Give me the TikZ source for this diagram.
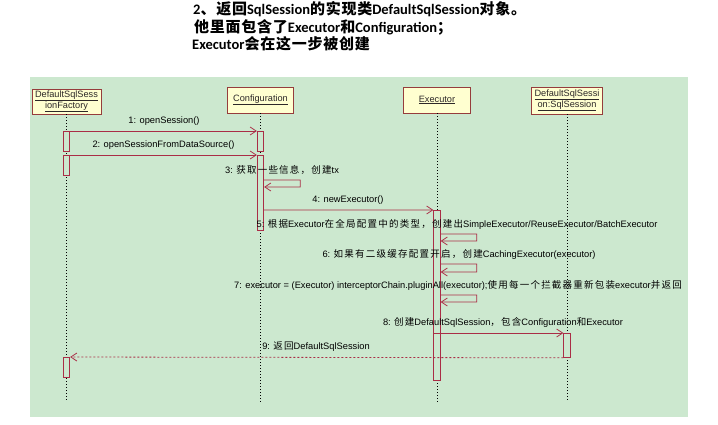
\documentclass[tikz,border=0pt]{standalone}
\usepackage{fontspec}
\setmainfont{Liberation Sans}
\newfontfamily\zhfont[LetterSpace=5]{Noto Sans CJK SC}
\newfontfamily\zhlbl[LetterSpace=13]{Noto Sans CJK SC}
\newfontfamily\titlelatin{Carlito}
\usetikzlibrary{arrows.meta,calc}
\newcommand\zh[1]{{\zhfont\fontsize{15bp}{17bp}\selectfont #1}}
\newcommand\zl[1]{{\zhlbl\fontsize{9.5bp}{11bp}\selectfont #1}}
\definecolor{bggreen}{RGB}{204,232,207}
\definecolor{boxfill}{RGB}{255,255,208}
\definecolor{boxdraw}{RGB}{150,60,60}
\definecolor{msgred}{RGB}{170,45,70}
\definecolor{boxtext}{RGB}{45,40,40}
\tikzset{
  titletext/.style={anchor=base west, inner sep=0pt, font=\titlelatin\bfseries\fontsize{14.5bp}{17bp}\selectfont},
  objbox/.style={draw=boxdraw, fill=boxfill, line width=0.8bp, inner sep=0pt, align=center, text=boxtext, font=\fontsize{9.2bp}{11bp}\selectfont},
  lifeline/.style={draw=black, line width=0.7bp, dash pattern=on 1bp off 2bp},
  bar/.style={draw=msgred, fill=bggreen, line width=0.8bp, minimum width=6.5bp, inner sep=0pt, anchor=north},
  msg/.style={draw=msgred, line width=0.8bp, -{Straight Barb[length=6bp,width=8bp]}},
  retmsg/.style={msg, dash pattern=on 2bp off 2bp},
  lbl/.style={inner sep=0pt, font=\fontsize{9.3bp}{11bp}\selectfont, text=black}
}
\begin{document}
\begin{tikzpicture}[x=1bp,y=-1bp]
\useasboundingbox (0,0) rectangle (718,424);
\fill[bggreen] (30,77) rectangle (688,417);
% title
\node[titletext] (t1) at (193,14) {2\zh{、返回}SqlSession\zh{的实现类}DefaultSqlSession\zh{对象。}};
\node[titletext] (t2) at (194,32) {\zh{他里面包含了}Executor\zh{和}Configuration\zh{；}};
\node[titletext] (t3) at (192,49) {Executor\zh{会在这一步被创建}};
% objects
\node[objbox, minimum width=69bp, minimum height=25bp] (fac) at (66.5,101.5) {\underline{DefaultSqlSess}\\\underline{ionFactory}};
\node[objbox, minimum width=66bp, minimum height=26bp] (cfg) at (260.5,100) {\underline{Configuration}};
\node[objbox, minimum width=67bp, minimum height=26bp] (exe) at (437,100) {\underline{Executor}};
\node[objbox, minimum width=71bp, minimum height=27bp] (dss) at (567,100.5) {\underline{DefaultSqlSessi}\\\underline{on:SqlSession}};
% lifeline ends
\coordinate (facend) at (66.5,402);
\coordinate (cfgend) at (260.5,402);
\coordinate (exeend) at (437,402);
\coordinate (dssend) at (567,402);
\draw[lifeline] (fac.south) -- (facend);
\draw[lifeline] (cfg.south) -- (cfgend);
\draw[lifeline] (exe.south) -- (exeend);
\draw[lifeline] (dss.south) -- (dssend);
% activation bars
\node[bar, minimum height=20bp] (f1) at (66.5,131) {};
\node[bar, minimum height=20bp] (f2) at (66.5,155) {};
\node[bar, minimum height=20bp] (f3) at (66.5,357) {};
\node[bar, minimum height=20bp] (c1) at (260.5,131) {};
\node[bar, minimum height=75bp] (c2) at (260.5,155) {};
\node[bar, minimum height=123bp] (e1) at (437,210) {};
\node[bar, minimum height=47bp] (e2) at (437,333) {};
\node[bar, minimum height=24bp] (s1) at (567,333) {};
% messages
\draw[msg] (f1.north east) -- (c1.north west);
\node[lbl] (l1) at (164,121) {1: openSession()};
\draw[msg] (f2.north east) -- (c2.north west);
\node[lbl] (l2) at (163.5,145) {2: openSessionFromDataSource()};
\node[lbl] (l3) at (282,170) {3: \zl{获取一些信息，创建}tx};
\draw[msg] ([yshift=-25bp]c2.north east) -- ++(36,0) -- ++(0,7) -- ([yshift=-32bp]c2.north east);
\draw[msg] ([yshift=-55bp]c2.north east) -- (e1.north west);
\node[lbl] (l4) at (348,200) {4: newExecutor()};
\node[lbl] (l5) at (457,224) {5: \zl{根据}Executor\zl{在全局配置中的类型，创建出}SimpleExecutor/ReuseExecutor/BatchExecutor};
\draw[msg] ([yshift=-24bp]e1.north east) -- ++(36,0) -- ++(0,7) -- ([yshift=-31bp]e1.north east);
\node[lbl] (l6) at (459,254) {6: \zl{如果有二级缓存配置开启，创建}CachingExecutor(executor)};
\draw[msg] ([yshift=-54bp]e1.north east) -- ++(36,0) -- ++(0,8) -- ([yshift=-62bp]e1.north east);
\node[lbl] (l7) at (458,285) {7: executor = (Executor) interceptorChain.pluginAll(executor);\zl{使用每一个拦截器重新包装}executor\zl{并返回}};
\draw[msg] ([yshift=-85bp]e1.north east) -- ++(36,0) -- ++(0,7) -- ([yshift=-92bp]e1.north east);
\node[lbl] (l8) at (503,322) {8: \zl{创建}DefaultSqlSession\zl{，包含}Configuration\zl{和}Executor};
\draw[msg] (e2.north east) -- (s1.north west);
\node[lbl] (l9) at (316,347) {9: \zl{返回}DefaultSqlSession};
\draw[retmsg] (s1.south west) -- (f3.north east);
\end{tikzpicture}
\end{document}
